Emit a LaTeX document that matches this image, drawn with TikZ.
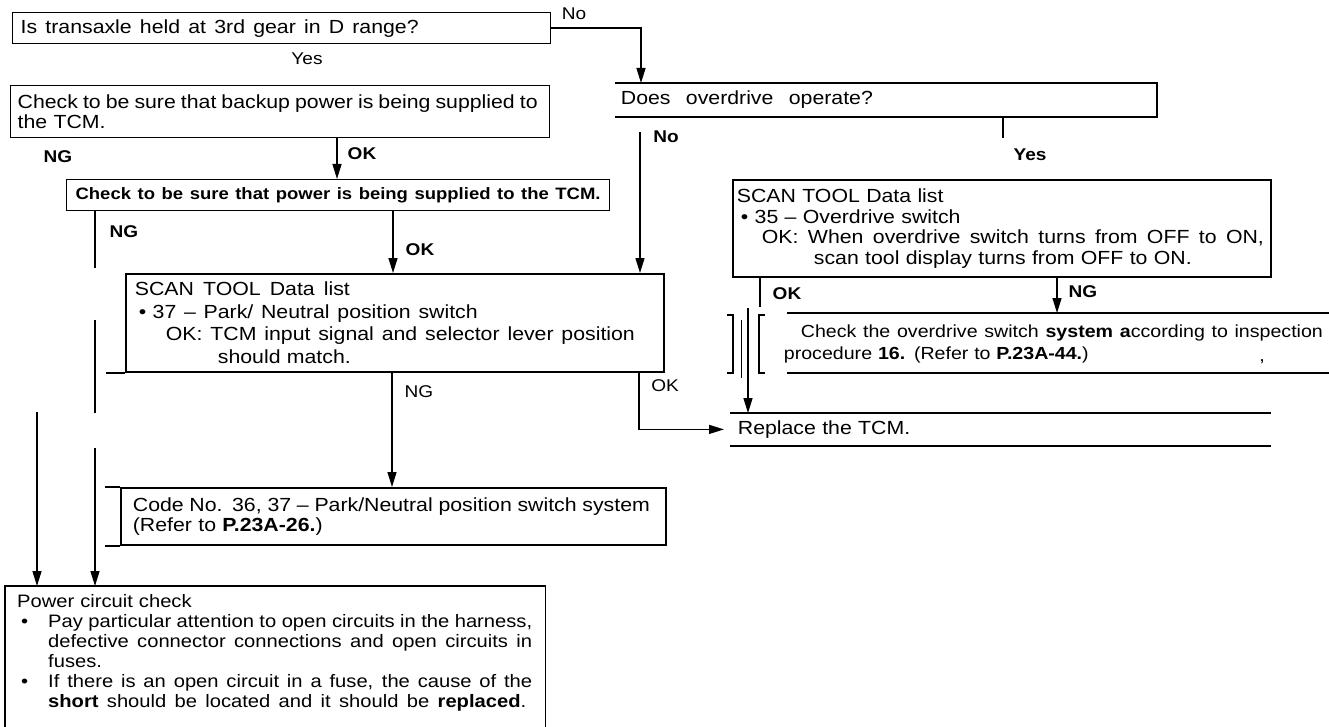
\documentclass[tikz,border=0pt]{standalone}
\usepackage{fontspec}
\setmainfont{Liberation Sans}[FakeStretch=1.12]
\usetikzlibrary{arrows.meta}
\newcommand\mainfs{\fontsize{19}{20.5}\selectfont}
\newcommand\smallfs{\fontsize{17.5}{22}\selectfont}
\newcommand\spreadline[2]{\makebox[#1][s]{\spaceskip=0.28em plus 2em minus 0.12em\relax #2}}
\tikzset{
  box/.style={draw, line width=1.8pt, anchor=north west, align=left, inner ysep=0pt, font=\mainfs},
  openbox/.style={box, draw=none},
  lab/.style={font=\fontsize{17}{17}\selectfont\bfseries, inner sep=0pt},
  labr/.style={font=\fontsize{17}{17}\selectfont, inner sep=0pt},
  conn/.style={line width=1.4pt},
  arr/.style={conn, -{Triangle[length=15pt,width=9pt]}},
  rim/.style={line width=1.8pt}
}
\begin{document}
\begin{tikzpicture}[x=1pt,y=-1pt]
\useasboundingbox (0,0) rectangle (1329,727);
% boxes
\node[box, line width=1.4pt, text width=522pt, inner xsep=8pt, minimum height=31pt] (gear) at (12,12) {\spreadline{398pt}{Is transaxle held at 3rd gear in D range?}};
\node[box, line width=1.4pt, text width=525pt, inner xsep=7pt, minimum height=52pt] (backup) at (10,85) {\spreadline{520pt}{Check to be sure that backup power is being supplied to}\\the TCM.};
\node[openbox, text width=530pt, inner xsep=5pt, minimum height=32pt] (odq) at (615,83) {\spreadline{252pt}{Does overdrive operate?}};
\draw[rim] (odq.north west) -- (odq.north east) -- (odq.south east) -- (odq.south west);
\node[box, line width=1.2pt, font=\fontsize{16.5}{19}\selectfont\bfseries, text width=525pt, inner xsep=9pt, minimum height=31pt] (pwr) at (66,179) {\spreadline{525pt}{Check to be sure that power is being supplied to the TCM.}};
\node[box, font=\fontsize{19}{22.5}\selectfont, text width=520pt, inner xsep=9pt, minimum height=98pt] (pnp) at (125,273) {\spreadline{215pt}{SCAN TOOL Data list}\\
\hspace*{4pt}\textbullet\ \spreadline{325pt}{37 – Park/ Neutral position switch}\\
\hspace*{31pt}\spreadline{469pt}{OK: TCM input signal and selector lever position}\\
\hspace*{83pt}should match.};
\draw[rim] (pnp.south west) -- ++(-19,0);
\node[box, text width=530pt, inner xsep=4pt, minimum height=97pt] (ods) at (732,179) {SCAN TOOL Data list\\
\hspace*{4pt}\textbullet\ 35 – Overdrive switch\\
\hspace*{25pt}\spreadline{502pt}{OK: When overdrive switch turns from OFF to ON,}\\
\hspace*{77pt}scan tool display turns from OFF to ON.};
\node[openbox, font=\smallfs, text width=546pt, inner xsep=3pt, minimum height=60pt] (odc) at (780,313) {\hspace*{17pt}\spreadline{522pt}{Check the overdrive switch \textbf{system a}ccording to inspection}\\procedure \textbf{16.} (Refer to \textbf{P.23A-44.})};
\draw[rim] (787,313) -- (1329,313) (787,373) -- (1329,373);
\draw[line width=2.6pt] (727,315) -- (733,315) -- (733,373) -- (727,373);
\draw[line width=2.6pt] (765,315) -- (759,315) -- (759,373) -- (765,373);
\node[labr, font=\smallfs] (comma) at (1262,362) {,};
\node[openbox, text width=525pt, inner xsep=7pt, minimum height=31pt] (tcm) at (730,413) {Replace the TCM.};
\draw[rim] (tcm.north west) -- (tcm.north east) (tcm.south west) -- (tcm.south east);
\node[box, text width=521pt, inner xsep=12pt, minimum height=57pt] (code) at (120,487) {\spreadline{517pt}{Code No. 36, 37 – Park/Neutral position switch system}\\(Refer to \textbf{P.23A-26.})};
\draw[rim] (code.north west) -- ++(-15,0) (code.south west) -- ++(-15,0);
\node[anchor=north west, align=left, font=\fontsize{18}{20}\selectfont, text width=516pt, inner xsep=12pt, inner ysep=8pt] (pcc) at (5,586) {Power circuit check\\
\makebox[31pt][l]{\hspace*{4pt}\textbullet}\spreadline{484pt}{Pay particular attention to open circuits in the harness,}\\
\hspace*{31pt}\spreadline{484pt}{defective connector connections and open circuits in}\\
\hspace*{31pt}fuses.\\
\makebox[31pt][l]{\hspace*{4pt}\textbullet}\spreadline{484pt}{If there is an open circuit in a fuse, the cause of the}\\
\hspace*{31pt}\spreadline{478pt}{\textbf{short} should be located and it should be \textbf{replaced}.}};
\coordinate (pcbot) at (0,740);
\draw[rim] (pcc.north west |- pcbot) -- (pcc.north west) -- (pcc.north east) -- (pcc.north east |- pcbot);
% connectors
\coordinate (xno) at (641,0);
\draw[arr] (gear.east) -| (odq.north -| xno);
\coordinate (xyes) at (1003,138);
\draw[conn] (odq.south -| xyes) -- (xyes);
\coordinate (nostart) at (640,132);
\draw[arr] (nostart) -- (pnp.north -| nostart);
\coordinate (xok1) at (337,0);
\draw[arr] (backup.south -| xok1) -- (pwr.north -| xok1);
\coordinate (xok2) at (393,0);
\draw[arr] (pwr.south -| xok2) -- (pnp.north -| xok2);
\coordinate (ng1a) at (95,268);
\coordinate (ng1b) at (95,320);
\coordinate (ng1c) at (95,413);
\coordinate (ng1d) at (95,448);
\draw[conn] (pwr.south -| ng1a) -- (ng1a);
\draw[conn] (ng1b) -- (ng1c);
\draw[arr] (ng1d) -- (pcc.north -| ng1d);
\coordinate (ng0) at (37,412);
\draw[arr] (ng0) -- (pcc.north -| ng0);
\coordinate (xng2) at (392,0);
\draw[arr] (pnp.south -| xng2) -- (code.north -| xng2);
\coordinate (xok3) at (639,0);
\draw[arr, shorten >=6pt] (pnp.south -| xok3) |- (tcm.west);
\coordinate (okst) at (760,307);
\draw[conn] (ods.south -| okst) -- (okst);
\coordinate (oklong) at (748,308);
\draw[arr] (oklong) -- (tcm.north -| oklong);
\draw[conn, line width=1pt] (741,320) -- (741,378);
\coordinate (xng3) at (1057,0);
\draw[arr] (ods.south -| xng3) -- (odc.north -| xng3);
% labels
\node[labr] (lno1) at (574,14) {No};
\node[labr] (lyes1) at (307,59) {Yes};
\node[lab] (lng1) at (58,157) {NG};
\node[lab] (lok1) at (362,154) {OK};
\node[lab] (lng2) at (124,232) {NG};
\node[lab] (lok2) at (420,250) {OK};
\node[lab] (lno2) at (666,137) {No};
\node[lab] (lyes2) at (1030,155) {Yes};
\node[labr] (lng3) at (419,392) {NG};
\node[labr] (lok3) at (665,386) {OK};
\node[lab] (lok4) at (787,294) {OK};
\node[lab] (lng4) at (1083,292) {NG};
\end{tikzpicture}
\end{document}
